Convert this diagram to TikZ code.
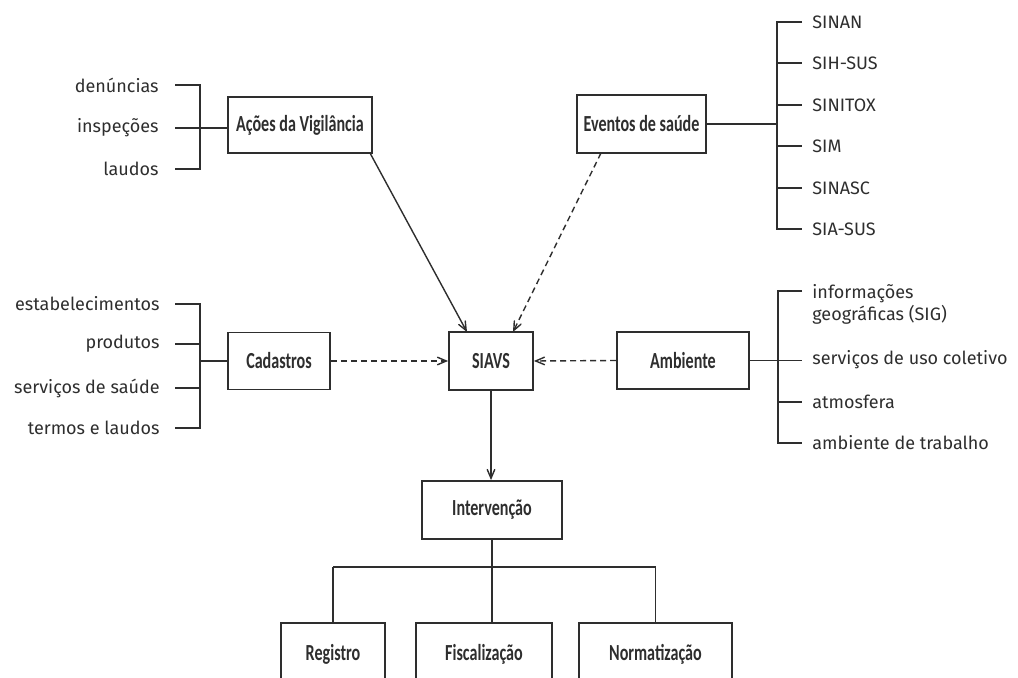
\documentclass[tikz,border=0pt]{standalone}
\usepackage{fontspec}
\setmainfont{Fira Sans}
\newfontfamily\caixafont[FakeStretch=0.7]{Carlito}
\usetikzlibrary{arrows}
\usetikzlibrary{positioning}

\colorlet{tinta}{black!82}

\tikzset{
	caixa/.style={draw=tinta, line width=0.9pt, font=\caixafont\fontsize{11.5}{13}\selectfont\bfseries, inner sep=0pt},
	esq/.style={anchor=east, inner sep=0pt},
	dir/.style={anchor=west, inner sep=0pt},
	liga/.style={draw=tinta, line width=0.9pt},
	seta/.style={draw=tinta, line width=0.7pt, ->, >=angle 45},
	tracos/.style={seta, dash pattern=on 3pt off 2pt},
}

\begin{document}
\begin{tikzpicture}[x=0.5pt, y=-0.5pt, font=\fontsize{9}{11}\selectfont, text=tinta]
	\clip (0,0) rectangle (1018,678);
	
	% caixas
	\node[caixa, minimum width=72pt, minimum height=28pt] (acoes) at (300,125) {Ações da Vigilância};
	\node[caixa, minimum width=64.5pt, minimum height=29pt] (eventos) at (641.5,124) {Eventos de saúde};
	\node[caixa, minimum width=42pt, minimum height=29pt] (siavs) at (491,361) {SIAVS};
	\node[caixa, minimum width=51pt, minimum height=28.5pt] (cad) at (279,361) {Cadastros};
	\node[caixa, minimum width=66pt, minimum height=28.5pt] (amb) at (683,360.5) {Ambiente};
	\node[caixa, minimum width=70pt, minimum height=29pt] (interv) at (492,510) {Intervenção};
	\node[caixa, minimum width=52pt, minimum height=31pt] (reg) at (333,654) {Registro};
	\node[caixa, minimum width=68pt, minimum height=31pt] (fisc) at (484,654) {Fiscalização};
	\node[caixa, minimum width=76.5pt, minimum height=31pt] (norm) at (655.5,654) {Normatização};
	
	% acoes da vigilancia
	\node[esq] (den) at (159,85) {denúncias};
	\node[esq] (insp) at (159,128) {inspeções};
	\node[esq] (lau) at (159,169) {laudos};
	\coordinate (jA) at (200,128);
	\draw[liga] (175,85) -- (200,85) -- (200,169) -- (175,169);
	\draw[liga] (175,128) -- (jA) -- (acoes.west |- jA);
	
	% cadastros
	\node[esq] (est) at (160,304) {estabelecimentos};
	\node[esq] (prod) at (160,344) {produtos};
	\node[esq] (serv) at (160,388) {serviços de saúde};
	\node[esq] (ter) at (160,428) {termos e laudos};
	\coordinate (jC) at (200,361);
	\draw[liga] (175,304) -- (200,304) -- (200,428) -- (175,428);
	\draw[liga] (175,344) -- (200,344);
	\draw[liga] (175,388) -- (200,388);
	\draw[liga] (jC) -- (cad.west);
	
	% eventos de saude
	\node[dir] (sinan) at (812,22) {SINAN};
	\node[dir] (sih) at (812,63) {SIH-SUS};
	\node[dir] (sinitox) at (812,105) {SINITOX};
	\node[dir] (sim) at (812,146) {SIM};
	\node[dir] (sinasc) at (812,188) {SINASC};
	\node[dir] (sia) at (812,229) {SIA-SUS};
	\coordinate (jE) at (777,124);
	\draw[liga] (802,22) -- (777,22) -- (777,229) -- (802,229);
	\foreach \y in {63,105,146,188}
		\draw[liga] (777,\y) -- (802,\y);
	\draw[liga] (eventos.east) -- (jE);
	
	% ambiente
	\node[dir, align=left] (info) at (812,304.5) {informações\\geográficas (SIG)};
	\node[dir] (scol) at (812,360) {serviços de uso coletivo};
	\node[dir] (atm) at (812,402) {atmosfera};
	\node[dir] (atrab) at (812,443) {ambiente de trabalho};
	\coordinate (jB) at (778,360.5);
	\draw[liga] (802,291) -- (778,291) -- (778,443) -- (802,443);
	\draw[liga] (778,402) -- (802,402);
	\draw[liga] (amb.east) -- (jB) -- (802,360.5);
	
	% setas
	\draw[seta] (370,153) -- (467,332);
	\draw[tracos] (601,153) -- (513,332);
	\draw[tracos] (cad.east) -- (siavs.west);
	\draw[tracos] (amb.west) -- (siavs.east);
	\draw[seta] (siavs.south) -- (siavs.south |- interv.north);
	
	% intervencao
	\coordinate (jI) at (492,567);
	\draw[liga] (interv.south) -- (jI);
	\draw[liga] (reg.north |- jI) -- (norm.north |- jI);
	\draw[liga] (reg.north |- jI) -- (reg.north);
	\draw[liga] (jI) -- (jI |- fisc.north);
	\draw[liga] (norm.north |- jI) -- (norm.north);
\end{tikzpicture}
\end{document}
